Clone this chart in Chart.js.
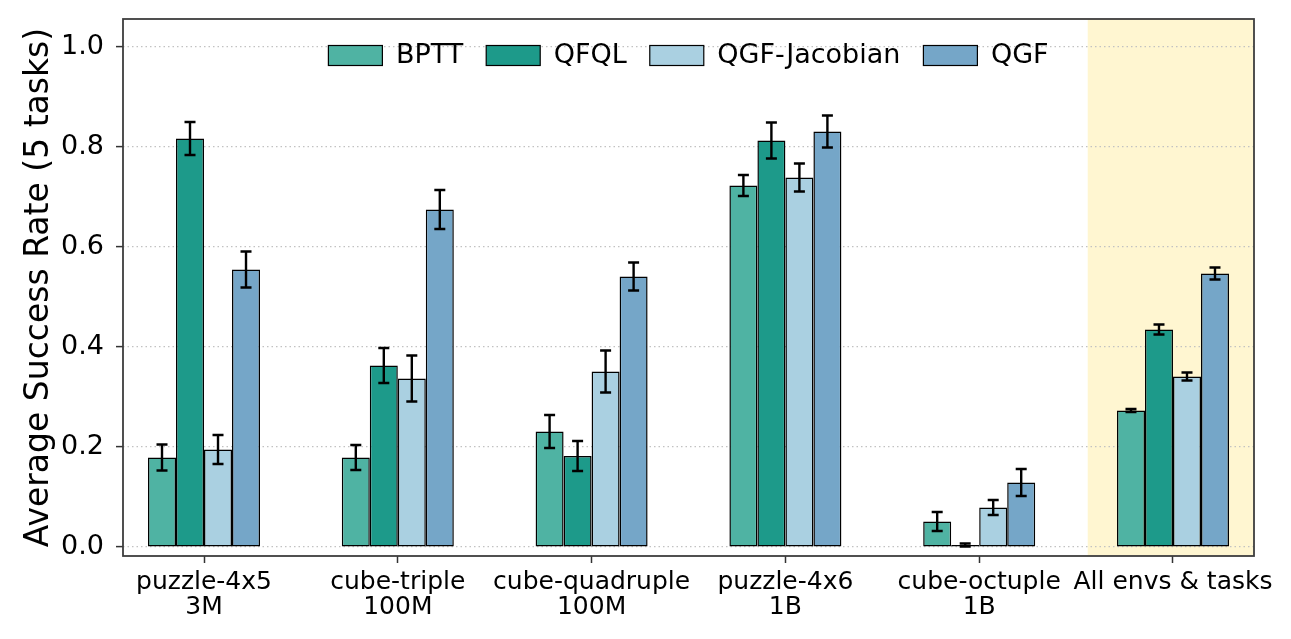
<!DOCTYPE html>
<html>
<head>
<meta charset="utf-8">
<script src="https://cdn.jsdelivr.net/npm/chart.js@4/dist/chart.umd.min.js"></script>
<style>
html, body { margin: 0; padding: 0; background: #fff; }
</style>
</head>
<body>
<canvas id="chart" width="1291" height="639"></canvas>
<script>
// categories on the x axis (two-line labels like the original)
var categories = [
    ['puzzle-4x5', '3M'],
    ['cube-triple', '100M'],
    ['cube-quadruple', '100M'],
    ['puzzle-4x6', '1B'],
    ['cube-octuple', '1B'],
    'All envs & tasks'
];
var yTicks = [0.0, 0.2, 0.4, 0.6, 0.8, 1.0];

var bpttMean = [0.179, 0.179, 0.231, 0.723, 0.051, 0.273];
var bpttErr  = [0.026, 0.025, 0.033, 0.021, 0.019, 0.003];
var qfqlMean = [0.817, 0.363, 0.182, 0.813, 0.004, 0.435];
var qfqlErr  = [0.033, 0.035, 0.030, 0.036, 0.003, 0.010];
var qgfjMean = [0.195, 0.337, 0.351, 0.739, 0.079, 0.341];
var qgfjErr  = [0.029, 0.046, 0.042, 0.028, 0.015, 0.008];
var qgfMean  = [0.555, 0.675, 0.541, 0.831, 0.129, 0.547];
var qgfErr   = [0.036, 0.039, 0.028, 0.032, 0.027, 0.012];

var highlightFrom = 4.56; // start of the shaded "All envs" panel, in category units

var font = 'DejaVu Sans';

function toPoints(values) {
    return values.map(function (v, i) { return { x: i, y: v }; });
}

function makeSet(label, values, errors, color) {
    return {
        label: label,
        data: toPoints(values),
        errors: errors,
        backgroundColor: color,
        borderColor: '#000000',
        borderWidth: 1.5,
        borderSkipped: false,
        categoryPercentage: 0.578,
        barPercentage: 1.0
    };
}

var panelPlugin = {
    id: 'panel',
    beforeDraw: function (chart) {
        var a = chart.chartArea;
        var ctx = chart.ctx;
        var x0 = chart.scales.x.getPixelForValue(highlightFrom);
        ctx.save();
        ctx.fillStyle = '#fff6d1';
        ctx.fillRect(x0, a.top, a.right - x0, a.bottom - a.top);
        ctx.restore();
    },
    afterDraw: function (chart) {
        var a = chart.chartArea;
        var ctx = chart.ctx;
        ctx.save();
        ctx.strokeStyle = '#3d3d3d';
        ctx.lineWidth = 1.8;
        ctx.strokeRect(a.left, a.top, a.right - a.left, a.bottom - a.top);
        ctx.restore();
    }
};

var errorBarPlugin = {
    id: 'errorBars',
    afterDatasetsDraw: function (chart) {
        var ctx = chart.ctx;
        var yScale = chart.scales.y;
        var cap = 5.5;
        ctx.save();
        ctx.strokeStyle = '#000000';
        ctx.lineWidth = 2.4;
        chart.data.datasets.forEach(function (ds, di) {
            var meta = chart.getDatasetMeta(di);
            meta.data.forEach(function (bar, i) {
                var v = ds.data[i].y, e = ds.errors[i];
                var yTop = yScale.getPixelForValue(v + e);
                var yBot = yScale.getPixelForValue(v - e);
                ctx.beginPath();
                ctx.moveTo(bar.x, yTop);
                ctx.lineTo(bar.x, yBot);
                ctx.moveTo(bar.x - cap, yTop);
                ctx.lineTo(bar.x + cap, yTop);
                ctx.moveTo(bar.x - cap, yBot);
                ctx.lineTo(bar.x + cap, yBot);
                ctx.stroke();
            });
        });
        ctx.restore();
    }
};

// legend sits inside the plot, one row, centred (matplotlib style, no frame)
var insideLegend = {
    id: 'insideLegend',
    afterDatasetsDraw: function (chart) {
        var ctx = chart.ctx;
        var a = chart.chartArea;
        var boxW = 54, boxH = 20, size = 27, gap = size / 2, pad = 23;
        ctx.save();
        ctx.font = size + 'px "' + font + '"';
        var sets = chart.data.datasets;
        var widths = sets.map(function (ds) { return boxW + gap + ctx.measureText(ds.label).width; });
        var total = widths.reduce(function (s, w) { return s + w; }, 0) + pad * (sets.length - 1);
        var x = (a.left + a.right) / 2 - total / 2;
        var mid = a.top + 36.5;
        sets.forEach(function (ds, i) {
            ctx.fillStyle = ds.backgroundColor;
            ctx.fillRect(x, mid - boxH / 2, boxW, boxH);
            ctx.strokeStyle = '#000';
            ctx.lineWidth = 1.2;
            ctx.strokeRect(x, mid - boxH / 2, boxW, boxH);
            ctx.fillStyle = '#000';
            ctx.textBaseline = 'middle';
            ctx.textAlign = 'left';
            ctx.fillText(ds.label, x + boxW + gap, mid);
            x += widths[i] + pad;
        });
        ctx.restore();
    }
};

new Chart(document.getElementById('chart'), {
    type: 'bar',
    data: {
        datasets: [
            makeSet('BPTT', bpttMean, bpttErr, '#4fb3a3'),
            makeSet('QFQL', qfqlMean, qfqlErr, '#1d9a8a'),
            makeSet('QGF-Jacobian', qgfjMean, qgfjErr, '#aad0e1'),
            makeSet('QGF', qgfMean, qgfErr, '#75a6c8')
        ]
    },
    options: {
        responsive: false,
        animation: false,
        layout: { padding: { left: 0, top: 19, right: 37, bottom: 0 } },
        scales: {
            x: {
                type: 'linear',
                offset: false,
                min: -0.418,
                max: 5.418,
                afterBuildTicks: function (scale) {
                    scale.ticks = categories.map(function (_, i) { return { value: i }; });
                },
                afterFit: function (scale) {
                    scale.height = 83;
                    scale.paddingLeft = 0;
                    scale.paddingRight = 0;
                },
                ticks: {
                    autoSkip: false,
                    maxRotation: 0,
                    padding: 7,
                    color: '#000',
                    font: { family: font, size: 25, lineHeight: 1.0 },
                    callback: function (value) { return categories[value]; }
                },
                grid: {
                    display: true,
                    offset: false,
                    drawOnChartArea: false,
                    drawTicks: true,
                    tickLength: 7,
                    tickColor: '#333',
                    tickWidth: 1.5
                },
                border: { display: false }
            },
            y: {
                min: -0.018,
                max: 1.056,
                afterBuildTicks: function (scale) {
                    scale.ticks = yTicks.map(function (v) { return { value: v }; });
                },
                afterFit: function (scale) {
                    scale.width = 123;
                    scale.paddingTop = 0;
                    scale.paddingBottom = 0;
                },
                ticks: {
                    padding: 12,
                    color: '#000',
                    font: { family: font, size: 27 },
                    callback: function (value) { return value.toFixed(1); }
                },
                grid: {
                    color: '#c2c2c2',
                    lineWidth: 1.2,
                    drawTicks: true,
                    tickLength: 7,
                    tickColor: '#333',
                    tickWidth: 1.5,
                    tickBorderDash: []
                },
                border: { display: false, dash: [1.5, 3] },
                title: {
                    display: true,
                    text: 'Average Success Rate (5 tasks)',
                    color: '#000',
                    padding: { top: 23, bottom: 0 },
                    font: { family: font, size: 33, lineHeight: 1.0 }
                }
            }
        },
        plugins: {
            legend: { display: false },
            tooltip: { enabled: false }
        }
    },
    plugins: [panelPlugin, errorBarPlugin, insideLegend]
});
</script>
</body>
</html>
